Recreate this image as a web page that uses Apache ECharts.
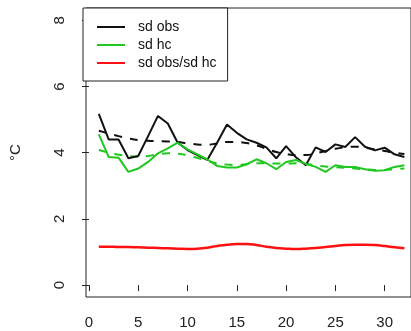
<!DOCTYPE html>
<html>
<head>
<meta charset="utf-8">
<script src="https://cdn.jsdelivr.net/npm/echarts@6/dist/echarts.min.js"></script>
<style>
  html, body { margin: 0; padding: 0; background: #fff; }
  #chart { width: 411px; height: 331px; }
</style>
</head>
<body>
<div id="chart"></div>
<script>
// lead time (x) 1..32
const leads = [1,2,3,4,5,6,7,8,9,10,11,12,13,14,15,16,17,18,19,20,21,22,23,24,25,26,27,28,29,30,31,32]
const sdObs = [5.17,4.4,4.4,3.83,3.9,4.5,5.11,4.88,4.3,4.08,3.93,3.78,4.3,4.85,4.6,4.4,4.3,4.16,3.83,4.2,3.86,3.62,4.16,4.02,4.25,4.17,4.47,4.18,4.07,4.15,3.95,3.87]
const sdObsTrend = [4.66,4.58,4.5,4.43,4.38,4.36,4.35,4.34,4.32,4.28,4.25,4.24,4.28,4.32,4.32,4.29,4.22,4.12,4.02,3.96,3.93,3.93,3.98,4.05,4.12,4.16,4.18,4.15,4.1,4.05,4.0,3.96]
const sdHc = [4.55,3.87,3.85,3.42,3.52,3.72,3.98,4.13,4.3,4.1,3.95,3.8,3.6,3.55,3.55,3.65,3.8,3.68,3.5,3.72,3.78,3.66,3.57,3.42,3.62,3.57,3.57,3.5,3.45,3.47,3.57,3.62]
const sdHcTrend = [4.08,4.0,3.94,3.9,3.88,3.9,3.95,3.98,3.97,3.92,3.84,3.75,3.68,3.64,3.63,3.65,3.68,3.68,3.67,3.67,3.68,3.66,3.62,3.58,3.56,3.54,3.52,3.5,3.48,3.48,3.5,3.52]
const ratio = [1.16,1.16,1.15,1.15,1.14,1.13,1.12,1.11,1.1,1.09,1.1,1.13,1.18,1.22,1.24,1.24,1.21,1.16,1.12,1.1,1.09,1.1,1.12,1.15,1.18,1.21,1.22,1.22,1.21,1.18,1.14,1.11]
const xTicks = [0,5,10,15,20,25,30]
const yTicks = [0,2,4,6,8]

const pairs = vals => leads.map((x, i) => [x, vals[i]])
const font = "'Liberation Sans', Arial, sans-serif"

const chart = echarts.init(document.getElementById('chart'), null, { renderer: 'canvas' })
chart.setOption({
  animation: false,
  grid: {
    left: 83, top: 8, right: -5, bottom: 34,
    show: true,
    borderColor: '#222',
    borderWidth: 1
  },
  legend: {
    data: ['sd obs', 'sd hc', 'sd obs/sd hc'],
    orient: 'vertical',
    left: 83,
    top: 8,
    padding: [12, 11, 11, 14],
    icon: 'path://M0,0H28V2H0Z',
    itemWidth: 28,
    itemHeight: 14,
    itemGap: 4,
    borderColor: '#222',
    borderWidth: 1,
    backgroundColor: '#fff',
    textStyle: { fontFamily: font, fontSize: 14, color: '#111', padding: [0, 0, 0, 8] }
  },
  xAxis: {
    type: 'value',
    min: -0.3,
    max: 32.67,
    splitLine: { show: false },
    axisLine: { show: false },
    axisTick: { show: true, customValues: xTicks, length: 6, lineStyle: { color: '#222' } },
    axisLabel: { customValues: xTicks, margin: 18, fontFamily: font, fontSize: 15, color: '#222' }
  },
  yAxis: {
    type: 'value',
    min: -0.36,
    max: 8.37,
    name: '°C',
    nameLocation: 'middle',
    nameRotate: 90,
    nameGap: 63,
    nameTextStyle: { fontFamily: font, fontSize: 15, color: '#222' },
    splitLine: { show: false },
    axisLine: { show: false },
    axisTick: { show: true, customValues: yTicks, length: 7, lineStyle: { color: '#222' } },
    axisLabel: { customValues: yTicks, rotate: 90, margin: 19, fontFamily: font, fontSize: 15, color: '#222' }
  },
  series: [
    {
      name: 'sd obs', type: 'line', symbol: 'none', data: pairs(sdObs),
      lineStyle: { color: '#111', width: 2 }, itemStyle: { color: '#111' }, z: 4
    },
    {
      name: 'sd obs trend', type: 'line', symbol: 'none', smooth: true, data: pairs(sdObsTrend),
      lineStyle: { color: '#111', width: 2, type: [8, 8] }, z: 3
    },
    {
      name: 'sd hc', type: 'line', symbol: 'none', data: pairs(sdHc),
      lineStyle: { color: '#1ec81e', width: 2 }, itemStyle: { color: '#1ec81e' }, z: 4
    },
    {
      name: 'sd hc trend', type: 'line', symbol: 'none', smooth: true, data: pairs(sdHcTrend),
      lineStyle: { color: '#1ec81e', width: 2, type: [8, 8] }, z: 3
    },
    {
      name: 'sd obs/sd hc', type: 'line', symbol: 'none', smooth: true, data: pairs(ratio),
      lineStyle: { color: '#ff1010', width: 2.5 }, itemStyle: { color: '#ff1010' }, z: 4
    }
  ]
})
</script>
</body>
</html>
